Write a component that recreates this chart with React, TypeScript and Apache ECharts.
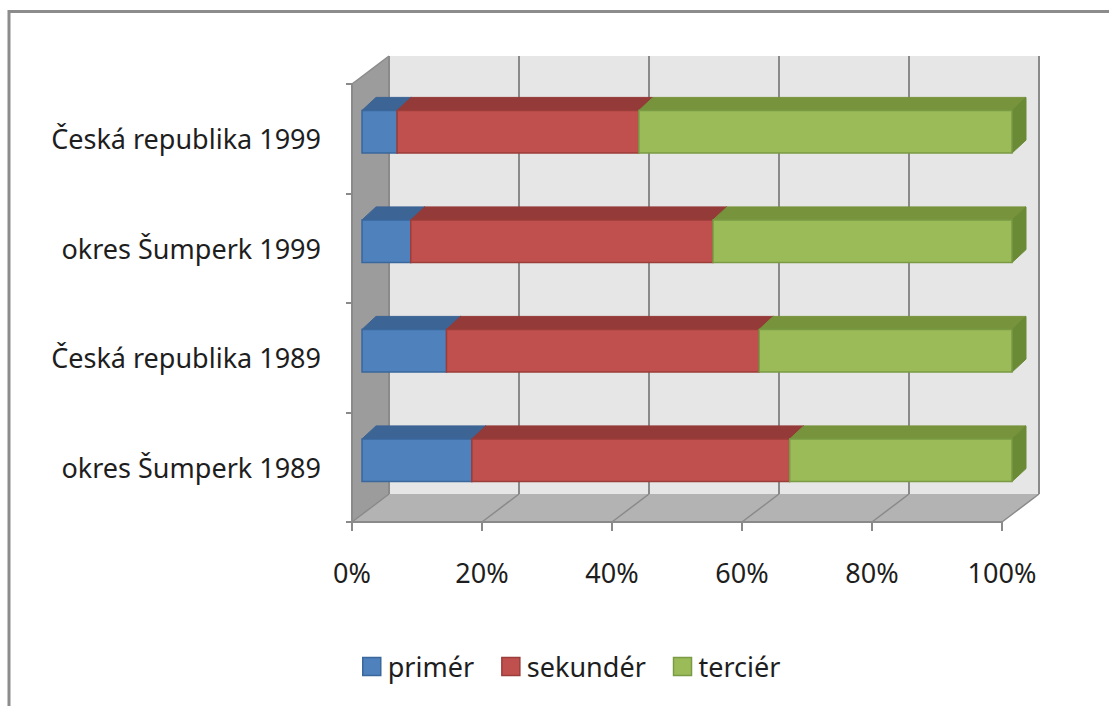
import React, { useEffect, useRef } from 'react';
import * as echarts from 'echarts';

// ---- data ----
const categories = ['Česká republika 1999', 'okres Šumperk 1999', 'Česká republika 1989', 'okres Šumperk 1989'];
const primer = [5.4, 7.5, 13.0, 16.9];
const sekunder = [37.2, 46.5, 48.1, 48.9];
const tercier = [57.4, 46.0, 38.9, 34.2];
const seriesNames = ['primér', 'sekundér', 'terciér'];
const xTicks = [0, 20, 40, 60, 80, 100];

// ---- style ----
const FONT = "'Noto Sans', sans-serif";
const TEXT = '#1e1e1e';
const palette = [
  { front: '#4f81bd', top: '#3c6494', side: '#385d8a', border: '#3a679c' },
  { front: '#c0504d', top: '#943b39', side: '#8c3836', border: '#9b3d3a' },
  { front: '#9bbb59', top: '#77933c', side: '#6a8a35', border: '#7a9a44' },
];
const WALL = [37, -28];
const BAR_OFF = [10, -7];
const BAR_DEPTH = [14, -13];

function buildStack() {
  const lists = [primer, sekunder, tercier];
  const out: number[][][] = [[], [], []];
  categories.forEach((_, i) => {
    let acc = 0;
    lists.forEach((l, s) => {
      out[s].push([acc, acc + l[i], i]);
      acc += l[i];
    });
  });
  return out;
}

export default function App() {
  const ref = useRef<HTMLDivElement>(null);
  useEffect(() => {
    if (!ref.current) return;
    const chart = echarts.init(ref.current, null, { renderer: 'svg' });
    const stacks = buildStack();

    const renderWalls = (params: any, api: any) => {
      const cs = params.coordSys;
      const x0 = cs.x, y0 = cs.y, x1 = cs.x + cs.width, y1 = cs.y + cs.height;
      const [dx, dy] = WALL;
      const children: any[] = [];
      children.push({ type: 'polygon', shape: { points: [[x0 + dx, y0 + dy], [x1 + dx, y0 + dy], [x1 + dx, y1 + dy], [x0 + dx, y1 + dy]] }, style: { fill: '#e6e6e6' } });
      children.push({ type: 'polygon', shape: { points: [[x0, y0], [x0 + dx, y0 + dy], [x0 + dx, y1 + dy], [x0, y1]] }, style: { fill: '#9c9c9c' } });
      children.push({ type: 'polygon', shape: { points: [[x0, y1], [x0 + dx, y1 + dy], [x1 + dx, y1 + dy], [x1, y1]] }, style: { fill: '#b3b3b3' } });
      xTicks.forEach((t) => {
        const x = api.coord([t, 0])[0];
        children.push({ type: 'line', shape: { x1: x + dx, y1: y0 + dy, x2: x + dx, y2: y1 + dy }, style: { stroke: '#8a8a8a', lineWidth: 2 } });
        children.push({ type: 'line', shape: { x1: x + dx, y1: y1 + dy, x2: x, y2: y1 }, style: { stroke: '#8a8a8a', lineWidth: 1.5 } });
      });
      children.push({ type: 'line', shape: { x1: x0, y1: y0, x2: x0 + dx, y2: y0 + dy }, style: { stroke: '#8a8a8a', lineWidth: 1.5 } });
      return { type: 'group', children };
    };

    const renderBar = (pal: any) => (params: any, api: any) => {
      const a = api.value(0), b = api.value(1), cat = api.value(2);
      const p0 = api.coord([a, cat]);
      const p1 = api.coord([b, cat]);
      const band = api.size([0, 1])[1];
      const h = band * 0.39;
      const left = p0[0] + BAR_OFF[0];
      const right = p1[0] + BAR_OFF[0];
      const top = p0[1] + BAR_OFF[1] - h / 2;
      const bottom = top + h;
      const [dx, dy] = BAR_DEPTH;
      return {
        type: 'group',
        children: [
          { type: 'polygon', shape: { points: [[left, top], [left + dx, top + dy], [right + dx, top + dy], [right, top]] }, style: { fill: pal.top, stroke: pal.top, lineWidth: 1 } },
          { type: 'polygon', shape: { points: [[right, top], [right + dx, top + dy], [right + dx, bottom + dy], [right, bottom]] }, style: { fill: pal.side, stroke: pal.side, lineWidth: 1 } },
          { type: 'rect', shape: { x: left, y: top, width: right - left, height: h }, style: { fill: pal.front, stroke: pal.border, lineWidth: 1.5 } },
        ],
      };
    };

    chart.setOption({
      animation: false,
      backgroundColor: '#ffffff',
      textStyle: { fontFamily: FONT },
      graphic: [
        { type: 'rect', z: -10, shape: { x: 9, y: 11.5, width: 1300, height: 900 }, style: { fill: 'none', stroke: '#8c8c8c', lineWidth: 3 } },
      ],
      grid: { left: 352, top: 84, width: 650, height: 438, containLabel: false },
      legend: {
        left: 362,
        top: 653,
        padding: 0,
        icon: 'rect',
        itemWidth: 18,
        itemHeight: 18,
        itemGap: 27,
        textStyle: { fontFamily: FONT, fontSize: 27, color: TEXT, padding: [0, 0, 0, 2] },
        data: seriesNames.map((n, i) => ({ name: n, itemStyle: { color: palette[i].front, borderColor: palette[i].border, borderWidth: 1.5 } })),
      },
      xAxis: {
        type: 'value',
        min: 0,
        max: 100,
        interval: 20,
        z: 5,
        axisLine: { show: true, lineStyle: { color: '#8a8a8a', width: 2 } },
        axisTick: { show: true, length: 9, lineStyle: { color: '#8a8a8a', width: 2 } },
        splitLine: { show: false },
        axisLabel: { formatter: '{value}%', fontFamily: FONT, fontSize: 27, color: TEXT, margin: 37 },
      },
      yAxis: {
        type: 'category',
        data: categories,
        inverse: true,
        z: 5,
        axisLine: { show: true, lineStyle: { color: '#8a8a8a', width: 2 } },
        axisTick: { show: true, length: 6, lineStyle: { color: '#8a8a8a', width: 2 } },
        splitLine: { show: false },
        axisLabel: { fontFamily: FONT, fontSize: 27, color: TEXT, margin: 31, padding: [6, 0, 0, 0] },
      },
      series: [
        {
          type: 'custom',
          name: '__walls',
          z: 1,
          silent: true,
          renderItem: renderWalls,
          encode: { x: 0, y: 1 },
          data: [[0, 0]],
        },
        ...seriesNames.map((n, i) => ({
          type: 'custom',
          name: n,
          z: 2 + i,
          itemStyle: { color: palette[i].front, borderColor: palette[i].border },
          renderItem: renderBar(palette[i]),
          encode: { x: [0, 1], y: 2 },
          data: stacks[i],
        })),
      ],
    });
    return () => chart.dispose();
  }, []);
  return <div ref={ref} style={{ position: 'absolute', left: 0, top: 0, width: 1109, height: 706 }} />;
}
